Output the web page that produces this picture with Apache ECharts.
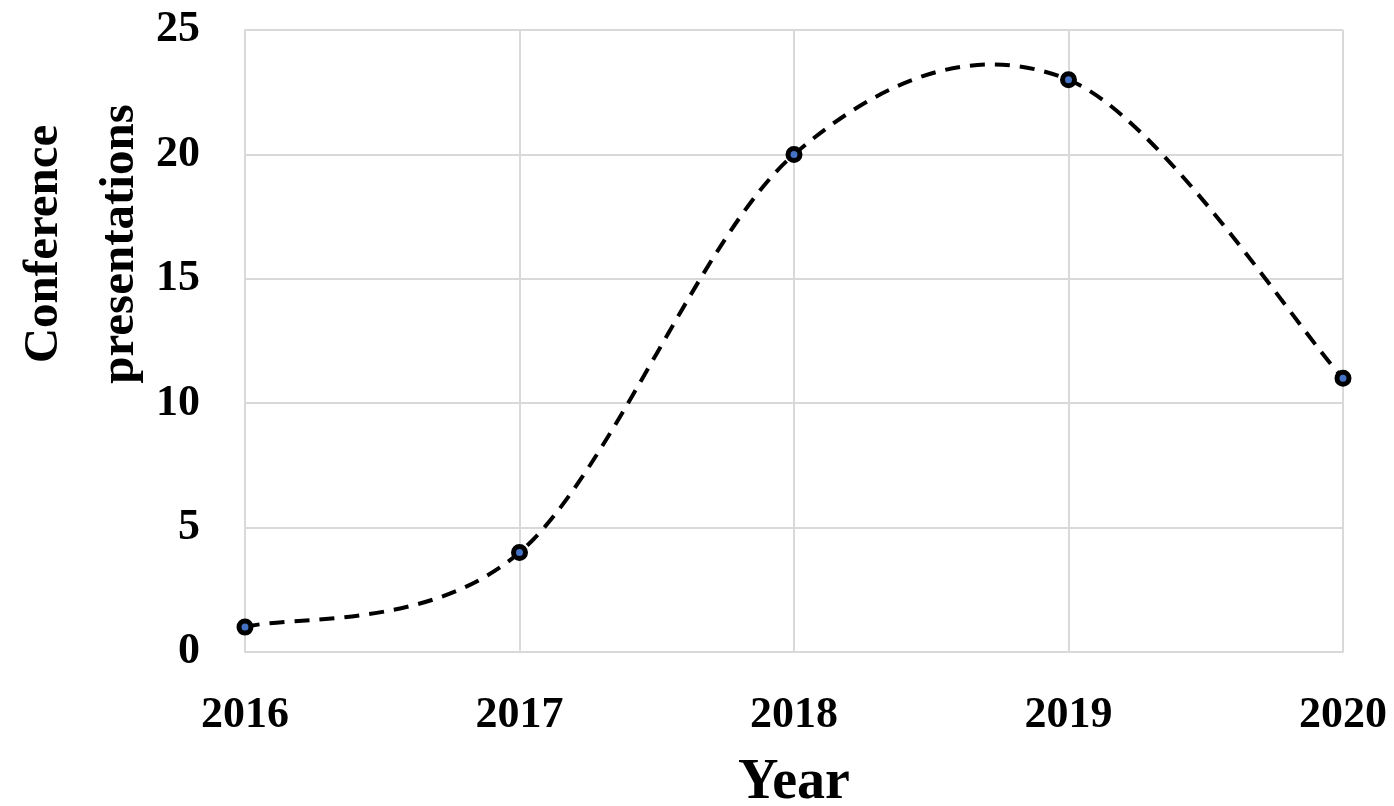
<!DOCTYPE html>
<html>
<head>
<meta charset="utf-8">
<script src="https://cdn.jsdelivr.net/npm/echarts@6/dist/echarts.min.js"></script>
<style>
  html, body { margin: 0; padding: 0; background: #fff; }
  #chart { width: 1394px; height: 806px; }
</style>
</head>
<body>
<div id="chart"></div>
<script>
// data
var years = ['2016', '2017', '2018', '2019', '2020'];
var presentations = [1, 4, 20, 23, 11];
var yTicks = [0, 5, 10, 15, 20, 25];

var font = '"Liberation Serif", "DejaVu Serif", serif';
var gridColor = '#d9d9d9';

// Excel-like smoothed line: cubic bezier through the points (Catmull-Rom, /6)
function renderCurve(params, api) {
  if (params.dataIndex !== 0) return null;
  var pts = presentations.map(function (v, i) { return api.coord([i, v]); });
  var n = pts.length;
  var d = 'M' + pts[0][0] + ' ' + pts[0][1];
  for (var i = 0; i < n - 1; i++) {
    var p0 = pts[Math.max(i - 1, 0)];
    var p1 = pts[i];
    var p2 = pts[i + 1];
    var p3 = pts[Math.min(i + 2, n - 1)];
    var c1x = p1[0] + (p2[0] - p0[0]) / 6, c1y = p1[1] + (p2[1] - p0[1]) / 6;
    var c2x = p2[0] - (p3[0] - p1[0]) / 6, c2y = p2[1] - (p3[1] - p1[1]) / 6;
    d += ' C' + c1x + ' ' + c1y + ' ' + c2x + ' ' + c2y + ' ' + p2[0] + ' ' + p2[1];
  }
  return {
    type: 'path',
    shape: { pathData: d },
    style: { fill: 'none', stroke: '#000', lineWidth: 4, lineDash: [15, 10] }
  };
}

var myChart = echarts.init(document.getElementById('chart'));

var option = {
  animation: false,
  grid: { left: 245, right: 51, top: 30, bottom: 154, outerBoundsMode: 'none', containLabel: false },
  xAxis: {
    type: 'category',
    data: years,
    boundaryGap: false,
    name: 'Year',
    nameLocation: 'middle',
    nameGap: 104,
    nameTextStyle: { fontFamily: font, fontWeight: 'bold', fontSize: 56, color: '#000' },
    axisLine: { lineStyle: { color: gridColor, width: 2 } },
    axisTick: { show: false },
    axisLabel: { fontFamily: font, fontWeight: 'bold', fontSize: 44, color: '#000', margin: 42 },
    splitLine: { show: true, lineStyle: { color: gridColor, width: 2 } }
  },
  yAxis: {
    type: 'value',
    min: yTicks[0],
    max: yTicks[yTicks.length - 1],
    interval: 5,
    axisLine: { show: true, lineStyle: { color: gridColor, width: 2 } },
    axisTick: { show: false },
    axisLabel: { fontFamily: font, fontWeight: 'bold', fontSize: 44, color: '#000', margin: 45 },
    splitLine: { lineStyle: { color: gridColor, width: 2 } }
  },
  graphic: [{
    type: 'text',
    x: 82,
    y: 244,
    rotation: Math.PI / 2,
    style: {
      text: 'Conference\npresentations',
      font: 'bold 49px ' + font,
      fill: '#000',
      align: 'center',
      verticalAlign: 'middle',
      lineHeight: 76
    }
  }],
  series: [{
    type: 'custom',
    data: presentations.map(function (v, i) { return [i, v]; }),
    encode: { x: 0, y: 1 },
    renderItem: renderCurve,
    silent: true,
    z: 2
  }, {
    type: 'line',
    data: presentations,
    symbol: 'circle',
    symbolSize: 12,
    lineStyle: { width: 0, opacity: 0 },
    itemStyle: { color: '#4472c4', borderColor: '#000', borderWidth: 5 },
    z: 3
  }]
};

myChart.setOption(option);
</script>
</body>
</html>
